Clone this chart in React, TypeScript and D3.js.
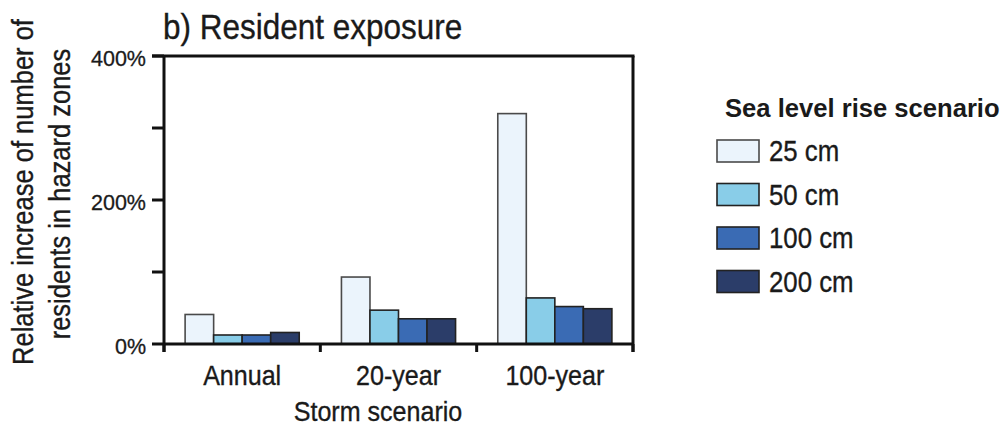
import React from 'react';
import * as d3 from 'd3';

const storms = ['Annual', '20-year', '100-year'];
const scenarios = ['25 cm', '50 cm', '100 cm', '200 cm'];
const colors = ['#ebf4fc', '#89cde8', '#3a6bb4', '#2b3d69'];
const strokes = ['#4a4a4a', '#222', '#222', '#222'];
// relative increase in % per storm, in scenario order
const annual = [41, 12.5, 12.5, 16];
const twentyYear = [93, 47, 35, 35];
const hundredYear = [320, 64, 52, 49];
const values = [annual, twentyYear, hundredYear];
const yTicks = [0, 100, 200, 300, 400];
const yTickLabels = ['0%', '', '200%', '', '400%'];

const FONT = "'Liberation Sans', Arial, sans-serif";

// narrowish text, like the original figure's condensed face
const NText = ({ x, y, size, sx = 0.88, anchor = 'start', rotate = 0, weight = 'normal', children }) => (
  <text
    transform={`translate(${x},${y}) rotate(${rotate}) scale(${sx},1)`}
    fontSize={size}
    fontFamily={FONT}
    fontWeight={weight}
    textAnchor={anchor}
    fill="#1a1a1a"
    stroke="#1a1a1a"
    strokeWidth={0.35}
  >
    {children}
  </text>
);

const App = () => {
  const left = 164, right = 633, top = 56, bottom = 344;

  const x0 = d3.scaleBand().domain(storms).range([left, right]).padding(0);
  const x1 = d3.scaleBand().domain(scenarios).range([0, x0.bandwidth()]).paddingInner(0).paddingOuter(0.74);
  const y = d3.scaleLinear().domain([0, 400]).range([bottom, top]);

  const xTickPos = [left, ...storms.map(s => x0(s) + x0.bandwidth())];

  const legY = d3.scaleBand().domain(scenarios).range([140, 314]).padding(0);

  return (
    <svg width={1003} height={431} style={{ position: 'absolute', left: 0, top: 0, background: '#fff' }}>
      <NText x={163} y={39} size={36} sx={0.875}>b) Resident exposure</NText>

      {/* bars */}
      {storms.map((s, i) => (
        <g key={s} transform={`translate(${x0(s)},0)`}>
          {scenarios.map((sc, j) => (
            <rect
              key={sc}
              x={x1(sc)}
              y={y(values[i][j])}
              width={x1.bandwidth()}
              height={bottom - y(values[i][j])}
              fill={colors[j]}
              stroke={strokes[j]}
              strokeWidth={1.6}
            />
          ))}
        </g>
      ))}

      {/* frame */}
      <g stroke="#111" strokeWidth={3} fill="none">
        <line x1={152} x2={right + 1.5} y1={top} y2={top} />
        <line x1={left} x2={left} y1={top} y2={bottom + 8} />
        <line x1={right} x2={right} y1={top} y2={bottom + 8} />
        <line x1={left} x2={right} y1={bottom} y2={bottom} />
        {yTicks.map(t => (
          <line key={t} x1={152} x2={left} y1={y(t)} y2={y(t)} />
        ))}
        {xTickPos.map(p => (
          <line key={p} x1={p} x2={p} y1={bottom} y2={bottom + 8} />
        ))}
      </g>

      {yTicks.map((t, i) => (
        <text key={t} x={146} y={y(t) + 10} fontSize={21.5} fontFamily={FONT} textAnchor="end"
          fill="#1a1a1a" stroke="#1a1a1a" strokeWidth={0.3}>
          {yTickLabels[i]}
        </text>
      ))}

      {storms.map(s => (
        <NText key={s} x={x0(s) + x0.bandwidth() / 2} y={385} size={28.5} anchor="middle">{s}</NText>
      ))}
      <NText x={378} y={421} size={28.5} anchor="middle">Storm scenario</NText>

      <NText x={33} y={192} size={29} rotate={-90} anchor="middle">Relative increase of number of</NText>
      <NText x={70} y={194} size={29} rotate={-90} anchor="middle">residents in hazard zones</NText>

      {/* legend */}
      <text x={725} y={117} fontSize={25.6} fontWeight="bold" fontFamily={FONT} fill="#1a1a1a">Sea level rise scenario</text>
      {scenarios.map((sc, j) => (
        <g key={sc} transform={`translate(0,${legY(sc)})`}>
          <rect x={717} y={0} width={42} height={22} fill={colors[j]} stroke={strokes[j]} strokeWidth={1.6} />
          <NText x={769} y={21} size={29} sx={0.89}>{sc}</NText>
        </g>
      ))}
    </svg>
  );
};

export default App;
